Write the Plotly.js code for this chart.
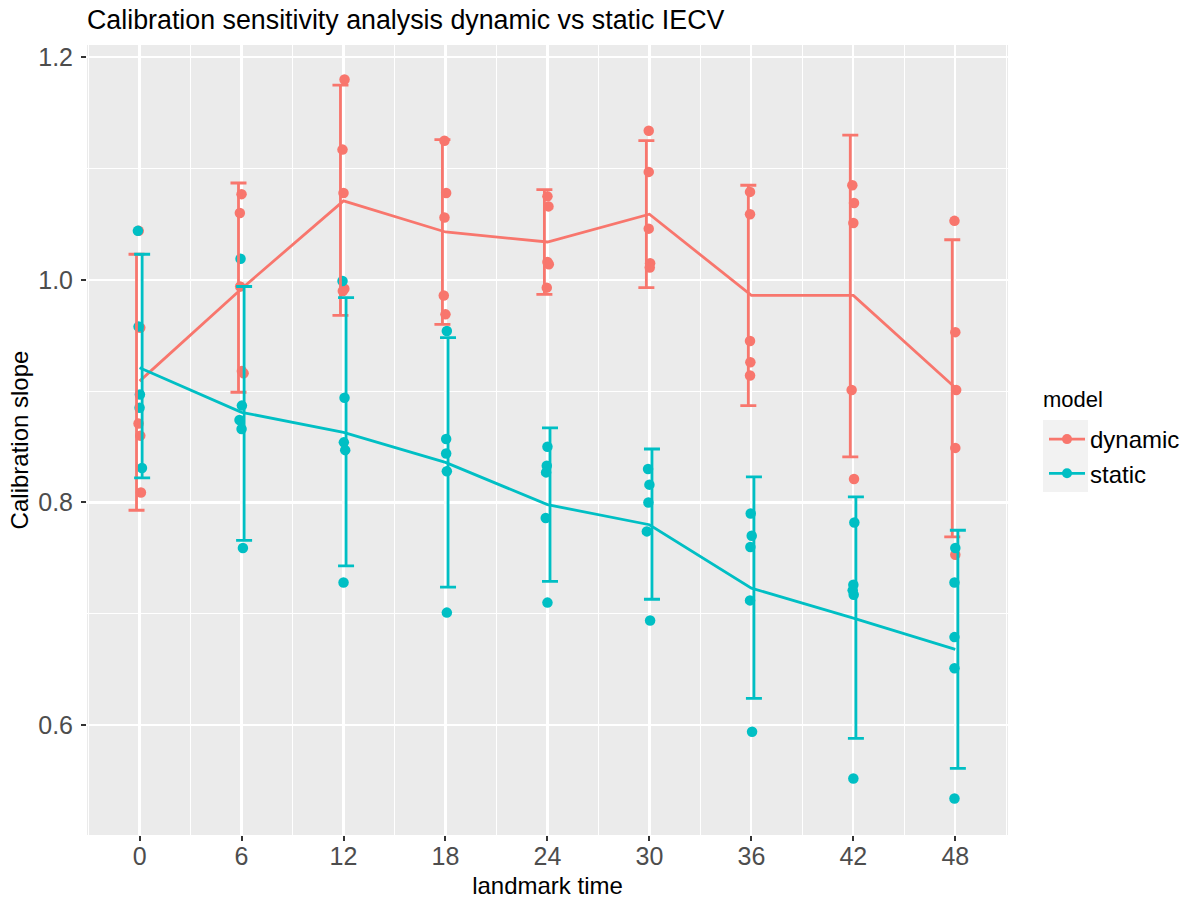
<!DOCTYPE html>
<html>
<head>
<meta charset="utf-8">
<script src="https://cdn.plot.ly/plotly-3.0.1.min.js"></script>
<style>html,body{margin:0;padding:0;background:#fff;}#chart{width:1191px;height:899px;}</style>
</head>
<body>
<div id="chart"></div>
<script>
// ---- data ----
const landmarks = [0, 6, 12, 18, 24, 30, 36, 42, 48];
const tickLabels = ["0", "6", "12", "18", "24", "30", "36", "42", "48"];
const yTickVals = [0.6, 0.8, 1.0, 1.2];
const yTickLabels = ["0.6", "0.8", "1.0", "1.2"];
const seriesNames = ["dynamic", "static"];

// mean (line) per landmark
const dynamicMean = [0.909, 0.992, 1.071, 1.043, 1.034, 1.059, 0.986, 0.986, 0.903];
const staticMean  = [0.921, 0.881, 0.863, 0.836, 0.798, 0.780, 0.723, 0.696, 0.668];

// confidence interval bounds per landmark
const dynamicLow  = [0.793, 0.899, 0.968, 0.960, 0.987, 0.993, 0.887, 0.841, 0.769];
const dynamicHigh = [1.023, 1.087, 1.175, 1.126, 1.081, 1.125, 1.085, 1.130, 1.036];
const staticLow   = [0.822, 0.766, 0.743, 0.724, 0.729, 0.713, 0.624, 0.588, 0.561];
const staticHigh  = [1.023, 0.994, 0.984, 0.948, 0.867, 0.848, 0.823, 0.805, 0.775];

// individual (jittered) points per landmark
const dynamicPoints = [
  [1.044, 0.957, 0.871, 0.860, 0.809],
  [1.077, 1.060, 0.994, 0.918, 0.916],
  [1.180, 1.117, 1.078, 0.990, 0.992],
  [1.125, 1.078, 1.056, 0.986, 0.969],
  [1.075, 1.066, 1.016, 1.014, 0.993],
  [1.134, 1.097, 1.046, 1.015, 1.011],
  [1.079, 1.059, 0.945, 0.926, 0.914],
  [1.085, 1.069, 1.051, 0.901, 0.821],
  [1.053, 0.953, 0.901, 0.849, 0.753]
];
const dynamicJitter = [
  [-0.05, 0.04, -0.06, 0.04, 0.08],
  [0.0, -0.10, -0.08, 0.02, 0.12],
  [0.06, -0.06, 0.0, -0.04, 0.05],
  [-0.06, 0.04, -0.06, -0.10, 0.0],
  [0.0, 0.06, 0.0, 0.08, -0.04],
  [-0.04, -0.04, -0.04, 0.04, 0.02],
  [-0.08, -0.08, -0.08, -0.06, -0.08],
  [-0.06, 0.04, 0.0, -0.10, 0.04],
  [-0.05, 0.0, 0.05, 0.0, 0.0]
];
const staticPoints = [
  [1.044, 0.958, 0.897, 0.885, 0.831],
  [1.019, 0.887, 0.874, 0.866, 0.759],
  [0.999, 0.894, 0.854, 0.847, 0.728],
  [0.954, 0.857, 0.844, 0.828, 0.701],
  [0.850, 0.833, 0.827, 0.786, 0.710],
  [0.830, 0.816, 0.800, 0.774, 0.694],
  [0.790, 0.770, 0.760, 0.712, 0.594],
  [0.782, 0.726, 0.721, 0.717, 0.552],
  [0.759, 0.728, 0.679, 0.651, 0.534]
];
const staticJitter = [
  [-0.10, -0.06, 0.02, 0.0, 0.14],
  [-0.06, 0.02, -0.12, 0.0, 0.08],
  [-0.06, 0.06, 0.02, 0.10, 0.0],
  [0.08, 0.04, 0.04, 0.08, 0.08],
  [0.0, -0.04, -0.08, -0.10, 0.0],
  [-0.08, 0.0, -0.06, -0.15, 0.04],
  [-0.04, 0.02, -0.06, -0.08, 0.04],
  [0.06, 0.0, -0.04, 0.02, 0.0],
  [0.0, -0.05, -0.05, -0.05, -0.05]
];

// ---- styling ----
const colors = {dynamic: "#F8766D", static: "#00BFC4"};
const dodge = {dynamic: -0.18, static: 0.15};
const FONT = "Liberation Sans, Arial, Helvetica, sans-serif";

function flattenPoints(points, jitter) {
  const xs = [], ys = [];
  points.forEach((grp, i) => grp.forEach((v, j) => {
    xs.push(landmarks[i] + jitter[i][j]);
    ys.push(v);
  }));
  return {xs, ys};
}

const series = [
  {name: "dynamic", mean: dynamicMean, low: dynamicLow, high: dynamicHigh, pts: flattenPoints(dynamicPoints, dynamicJitter)},
  {name: "static", mean: staticMean, low: staticLow, high: staticHigh, pts: flattenPoints(staticPoints, staticJitter)}
];

const traces = [];
series.forEach(s => traces.push({
  type: "scatter", mode: "markers", x: s.pts.xs, y: s.pts.ys,
  marker: {color: colors[s.name], size: 10.5, line: {width: 0}},
  showlegend: false, cliponaxis: true
}));
series.forEach(s => traces.push({
  type: "scatter", mode: "lines", x: landmarks, y: s.mean,
  line: {color: colors[s.name], width: 2.8},
  showlegend: false
}));
series.forEach(s => traces.push({
  type: "scatter", mode: "markers",
  x: landmarks.map(v => v + dodge[s.name]), y: s.mean,
  marker: {size: 1, opacity: 0},
  error_y: {
    type: "data", symmetric: false,
    array: s.high.map((h, i) => h - s.mean[i]),
    arrayminus: s.mean.map((m, i) => m - s.low[i]),
    color: colors[s.name], thickness: 2.8, width: 8
  },
  showlegend: false
}));
series.forEach(s => traces.push({
  type: "scatter", mode: "lines+markers", x: [null], y: [null], name: s.name,
  line: {color: colors[s.name], width: 2.8},
  marker: {color: colors[s.name], size: 10},
  showlegend: true
}));

// paper-coordinate helpers (plot area: x 87..1008, y 45..835)
const px2x = p => (p - 87) / 921;
const px2y = p => (835 - p) / 790;

const layout = {
  width: 1191, height: 899,
  margin: {l: 87, r: 183, t: 45, b: 64, pad: 0},
  paper_bgcolor: "#FFFFFF",
  plot_bgcolor: "#EBEBEB",
  font: {family: FONT, color: "#000000"},
  title: {
    text: "Calibration sensitivity analysis dynamic vs static IECV",
    font: {family: FONT, size: 26.8, color: "#000000"},
    x: 0, xref: "paper", xanchor: "left",
    y: 0.978, yref: "container", yanchor: "middle",
    pad: {l: 0, t: 0, b: 0, r: 0}
  },
  xaxis: {
    range: [-3.094, 51.1],
    tickmode: "array", tickvals: landmarks, ticktext: tickLabels,
    ticks: "outside", ticklen: 5, tickwidth: 2, tickcolor: "#333333",
    tickfont: {family: FONT, size: 25, color: "#4D4D4D"},
    ticklabelstandoff: -6,
    showgrid: true, gridcolor: "#FFFFFF", gridwidth: 2.2,
    minor: {dtick: 3, tick0: 0, showgrid: true, gridcolor: "#FFFFFF", gridwidth: 1.1, ticks: ""},
    zeroline: false, showline: false,
    title: {text: "landmark time", font: {family: FONT, size: 24, color: "#000000"}, standoff: 8}
  },
  yaxis: {
    range: [0.5012, 1.211],
    tickmode: "array", tickvals: yTickVals, ticktext: yTickLabels,
    ticks: "outside", ticklen: 5, tickwidth: 2, tickcolor: "#333333",
    tickfont: {family: FONT, size: 25, color: "#4D4D4D"},
    ticklabelstandoff: 3,
    showgrid: true, gridcolor: "#FFFFFF", gridwidth: 2.2,
    minor: {dtick: 0.1, tick0: 0, showgrid: true, gridcolor: "#FFFFFF", gridwidth: 1.1, ticks: ""},
    zeroline: false, showline: false,
    title: {text: "Calibration slope", font: {family: FONT, size: 24, color: "#000000"}, standoff: 2}
  },
  legend: {
    font: {family: FONT, size: 24, color: "#000000"},
    xref: "container", yref: "container",
    x: 1044 / 1191, xanchor: "left", y: 1 - 417 / 899, yanchor: "top",
    bgcolor: "rgba(0,0,0,0)", borderwidth: 0,
    tracegroupgap: 0, itemwidth: 36
  },
  annotations: [{
    text: "model", xref: "paper", yref: "paper",
    x: px2x(1041), y: px2y(400), xanchor: "left", yanchor: "middle",
    showarrow: false, font: {family: FONT, size: 22, color: "#000000"}
  }],
  shapes: [{
    type: "rect", xref: "paper", yref: "paper",
    x0: px2x(1043), x1: px2x(1088), y0: px2y(492), y1: px2y(420),
    fillcolor: "#F2F2F2", line: {width: 0}, layer: "below"
  }],
  showlegend: true
};

Plotly.newPlot("chart", traces, layout, {displayModeBar: false, staticPlot: true});
</script>
</body>
</html>
